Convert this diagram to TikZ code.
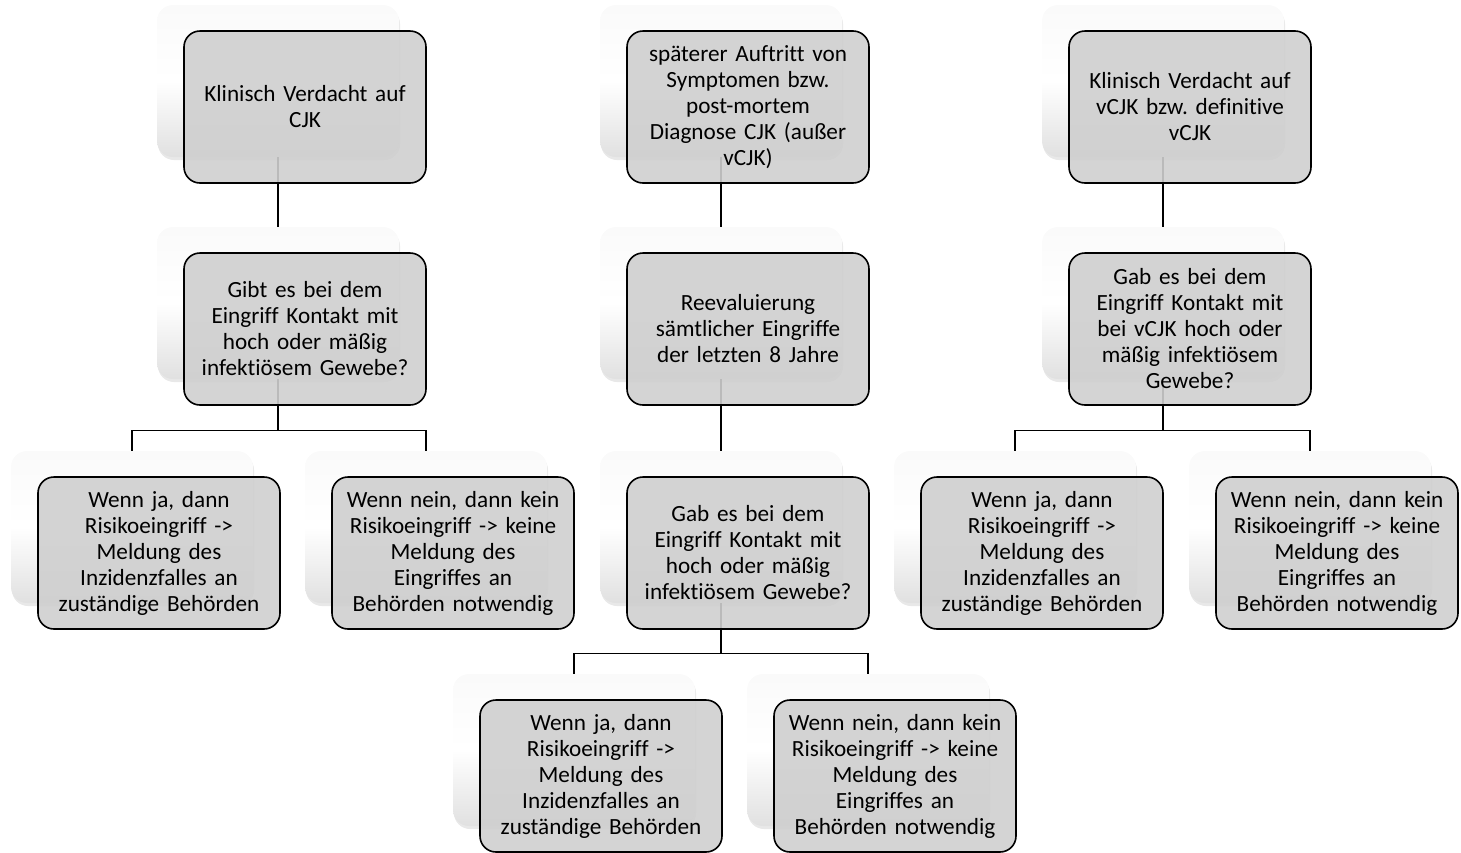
\documentclass[tikz,border=0pt]{standalone}
\usepackage{fontspec}
\setmainfont{Carlito}[Ligatures=NoCommon]
\usetikzlibrary{shadows}
\frenchspacing
\tikzset{
  card/.style={rounded corners=8pt, minimum width=121pt, minimum height=76pt,
    inner sep=0pt, top color=gray!4, bottom color=gray!24, middle color=white,
    drop shadow={opacity=0.18, shadow xshift=0.5pt, shadow yshift=-1.5pt}},
  box/.style={draw=black, line width=0.8pt, rounded corners=8pt,
    minimum width=121pt, minimum height=76pt, inner sep=1pt,
    text width=119pt, align=center, fill=black!19, fill opacity=0.9,
    text opacity=1, font=\fontsize{11.6}{13}\selectfont\frenchspacing},
  link/.style={line width=0.8pt}
}
\begin{document}
\begin{tikzpicture}[x=0.5pt, y=-0.5pt]
    \useasboundingbox (0,0) rectangle (1461,852);
    % back cards
    \node[card] (a1b) at (278, 81) {};
    \node[card] (a2b) at (278, 303) {};
    \node[card] (a3b) at (132, 527) {};
    \node[card] (a4b) at (426, 527) {};
    \node[card] (b1b) at (721, 81) {};
    \node[card] (b2b) at (721, 303) {};
    \node[card] (b3b) at (721, 527) {};
    \node[card] (b4b) at (574, 750) {};
    \node[card] (b5b) at (868, 750) {};
    \node[card] (c1b) at (1163, 81) {};
    \node[card] (c2b) at (1163, 303) {};
    \node[card] (c3b) at (1015, 527) {};
    \node[card] (c4b) at (1310, 527) {};
    % connectors
    \draw[link] (a1b.south) -- (a2b.north);
    \draw[link] (a2b.south) -- ++(0,51) -| (a3b.north);
    \draw[link] (a2b.south) -- ++(0,51) -| (a4b.north);
    \draw[link] (b1b.south) -- (b2b.north);
    \draw[link] (b2b.south) -- (b3b.north);
    \draw[link] (b3b.south) -- ++(0,50) -| (b4b.north);
    \draw[link] (b3b.south) -- ++(0,50) -| (b5b.north);
    \draw[link] (c1b.south) -- (c2b.north);
    \draw[link] (c2b.south) -- ++(0,51) -| (c3b.north);
    \draw[link] (c2b.south) -- ++(0,51) -| (c4b.north);
    % left column
    \node[box] (a1) at (305, 107) {Klinisch Verdacht auf\\CJK};
    \node[box] (a2) at (305, 329) {Gibt es bei dem\\Eingriff Kontakt mit\\hoch oder mäßig\\infektiösem Gewebe?};
    \node[box] (a3) at (159, 553) {Wenn ja, dann\\Risikoeingriff ->\\Meldung des\\Inzidenzfalles an\\zuständige Behörden};
    \node[box] (a4) at (453, 553) {Wenn nein, dann kein\\Risikoeingriff -> keine\\Meldung des\\Eingriffes an\\Behörden notwendig};
    % middle column
    \node[box] (b1) at (748, 107) {späterer Auftritt von\\Symptomen bzw.\\post-mortem\\Diagnose CJK (außer\\vCJK)};
    \node[box] (b2) at (748, 329) {Reevaluierung\\sämtlicher Eingriffe\\der letzten 8 Jahre};
    \node[box] (b3) at (748, 553) {Gab es bei dem\\Eingriff Kontakt mit\\hoch oder mäßig\\infektiösem Gewebe?};
    \node[box] (b4) at (601, 776) {Wenn ja, dann\\Risikoeingriff ->\\Meldung des\\Inzidenzfalles an\\zuständige Behörden};
    \node[box] (b5) at (895, 776) {Wenn nein, dann kein\\Risikoeingriff -> keine\\Meldung des\\Eingriffes an\\Behörden notwendig};
    % right column
    \node[box] (c1) at (1190, 107) {Klinisch Verdacht auf\\vCJK bzw. definitive\\vCJK};
    \node[box] (c2) at (1190, 329) {Gab es bei dem\\Eingriff Kontakt mit\\bei vCJK hoch oder\\mäßig infektiösem\\Gewebe?};
    \node[box] (c3) at (1042, 553) {Wenn ja, dann\\Risikoeingriff ->\\Meldung des\\Inzidenzfalles an\\zuständige Behörden};
    \node[box] (c4) at (1337, 553) {Wenn nein, dann kein\\Risikoeingriff -> keine\\Meldung des\\Eingriffes an\\Behörden notwendig};
\end{tikzpicture}
\end{document}
